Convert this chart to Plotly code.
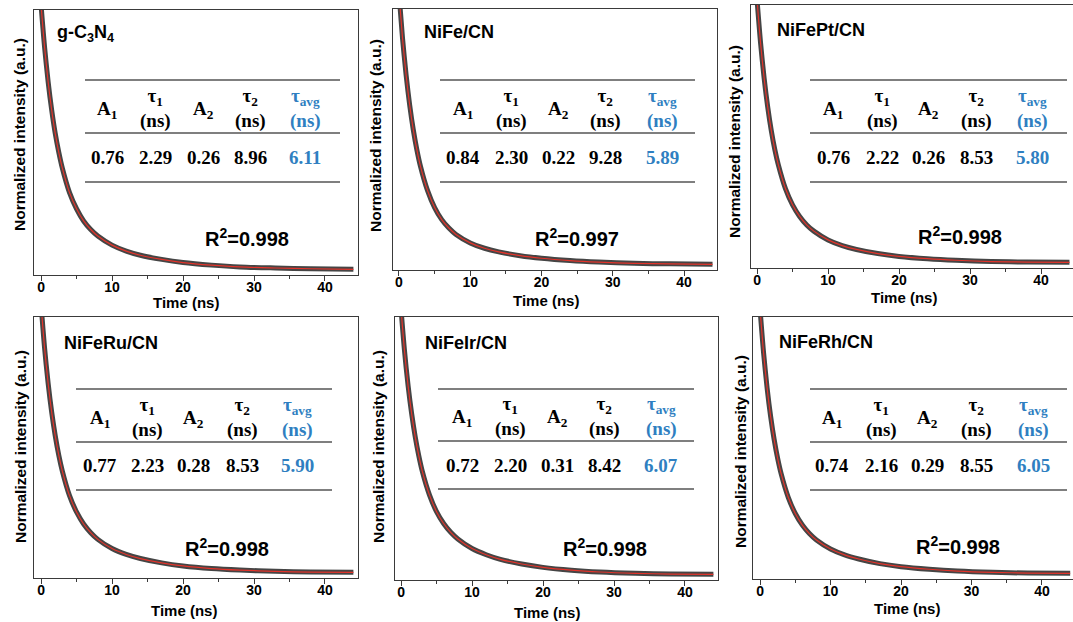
import plotly.graph_objects as go

W, H = 1073, 622

# ---------------- data ----------------
TIME_NS = [0, 0.5, 1, 1.5, 2, 2.5, 3, 4, 5, 6, 7, 8, 10, 12, 14, 17, 20, 24, 28, 33, 38, 44]

DECAY_GC3N4 = [1.020, 0.857, 0.724, 0.615, 0.525, 0.452, 0.391, 0.298, 0.235, 0.188, 0.155,
               0.130, 0.095, 0.072, 0.056, 0.040, 0.028, 0.018, 0.011, 0.007, 0.004, 0.002]
DECAY_NIFE = [1.060, 0.885, 0.742, 0.625, 0.529, 0.451, 0.387, 0.291, 0.224, 0.177, 0.144,
              0.119, 0.086, 0.065, 0.051, 0.036, 0.026, 0.017, 0.011, 0.006, 0.004, 0.002]
DECAY_NIFEPT = [1.020, 0.852, 0.716, 0.605, 0.514, 0.440, 0.380, 0.288, 0.225, 0.180, 0.147,
                0.123, 0.089, 0.067, 0.052, 0.036, 0.025, 0.016, 0.010, 0.005, 0.003, 0.002]
DECAY_NIFERU = [1.050, 0.879, 0.741, 0.628, 0.536, 0.460, 0.398, 0.303, 0.238, 0.191, 0.157,
                0.131, 0.095, 0.072, 0.056, 0.039, 0.027, 0.017, 0.011, 0.006, 0.003, 0.002]
DECAY_NIFEIR = [1.030, 0.866, 0.732, 0.624, 0.535, 0.462, 0.401, 0.310, 0.245, 0.199, 0.165,
                0.139, 0.102, 0.078, 0.060, 0.042, 0.029, 0.018, 0.011, 0.006, 0.003, 0.002]
DECAY_NIFERH = [1.030, 0.861, 0.724, 0.613, 0.523, 0.449, 0.389, 0.298, 0.235, 0.190, 0.157,
                0.132, 0.097, 0.074, 0.058, 0.040, 0.028, 0.018, 0.011, 0.006, 0.003, 0.002]

SAMPLES = ["g-C<sub>3</sub>N<sub>4</sub>", "NiFe/CN", "NiFePt/CN", "NiFeRu/CN", "NiFeIr/CN", "NiFeRh/CN"]
DECAYS = [DECAY_GC3N4, DECAY_NIFE, DECAY_NIFEPT, DECAY_NIFERU, DECAY_NIFEIR, DECAY_NIFERH]

A1 = ["0.76", "0.84", "0.76", "0.77", "0.72", "0.74"]
TAU1 = ["2.29", "2.30", "2.22", "2.23", "2.20", "2.16"]
A2 = ["0.26", "0.22", "0.26", "0.28", "0.31", "0.29"]
TAU2 = ["8.96", "9.28", "8.53", "8.53", "8.42", "8.55"]
TAU_AVG = ["6.11", "5.89", "5.80", "5.90", "6.07", "6.05"]
R2 = ["0.998", "0.997", "0.998", "0.998", "0.998", "0.998"]

X_TICKS = [0, 10, 20, 30, 40]
X_TITLE = "Time (ns)"
Y_TITLE = "Normalized intensity (a.u.)"

# ---------------- layout geometry (pixels) ----------------
LAYOUT = [
    dict(box=(34, 358, 10, 275), xr=(-0.99, 44.65), right=True, ytitle=(20, 135), label=(55, 33),
         tline=(85, 340), ly=(80, 133, 182), cols=[107, 155, 203, 250, 305], hy=108, vy=157,
         r2=(247, 238), xt=(186, 302)),
    dict(box=(393, 717, 9, 270), xr=(-0.84, 44.63), right=True, ytitle=(375, 136), label=(422, 32),
         tline=(440, 695), ly=(80, 133, 182), cols=[463, 511, 558, 605, 662], hy=108, vy=157,
         r2=(577, 238), xt=(546, 300)),
    dict(box=(751, 1073, 5, 268), xr=(-0.85, 44.5), right=False, ytitle=(735, 142), label=(775, 30),
         tline=(810, 1067), ly=(80, 133, 182), cols=[833, 882, 928, 976, 1032], hy=108, vy=157,
         r2=(960, 235), xt=(904, 297)),
    dict(box=(34, 358, 317, 578), xr=(-0.99, 44.65), right=True, ytitle=(20, 447), label=(62, 343),
         tline=(76, 332), ly=(389, 442, 490), cols=[100, 147, 193, 242, 297], hy=417, vy=466,
         r2=(227, 547), xt=(184, 610)),
    dict(box=(395, 718, 317, 580), xr=(-0.85, 44.65), right=True, ytitle=(378, 447), label=(423, 343),
         tline=(438, 694), ly=(389, 441, 489), cols=[462, 510, 557, 604, 661], hy=416, vy=465,
         r2=(605, 547), xt=(547, 612)),
    dict(box=(753, 1073, 317, 579), xr=(-1.0, 44.4), right=False, ytitle=(740, 452), label=(777, 342),
         tline=(810, 1067), ly=(389, 442, 490), cols=[832, 881, 927, 976, 1033], hy=417, vy=465,
         r2=(958, 545), xt=(907, 608)),
]

SANS = "Liberation Sans, Arial, sans-serif"
SERIF = "Liberation Serif, Times New Roman, serif"
BLUE = "#2f7fc1"
GRAY = "#454545"
RED = "#e3342b"
AXIS = "#3a3a3a"


def fx(x):
    return x / W


def fy(y):
    return 1 - y / H


def note(x, y, text, font, **kw):
    d = dict(x=fx(x), y=fy(y), xref="paper", yref="paper", text=text, showarrow=False,
             xanchor="center", yanchor="middle", font=font)
    d.update(kw)
    return d


fig = go.Figure()
annotations = []
shapes = []

for i, (cfg, decay) in enumerate(zip(LAYOUT, DECAYS)):
    n = "" if i == 0 else str(i + 1)
    xa, ya = "x" + n, "y" + n
    fig.add_trace(go.Scatter(x=TIME_NS, y=decay, xaxis=xa, yaxis=ya, mode="lines",
                             line=dict(color=GRAY, width=5, shape="spline", smoothing=0.8),
                             hoverinfo="skip", showlegend=False))
    fig.add_trace(go.Scatter(x=TIME_NS, y=decay, xaxis=xa, yaxis=ya, mode="lines",
                             line=dict(color=RED, width=1.2, shape="spline", smoothing=0.8),
                             hoverinfo="skip", showlegend=False))
    l, r, t, b = cfg["box"]
    fig.update_layout(**{
        "xaxis" + n: dict(domain=[fx(l), fx(r)], range=list(cfg["xr"]), anchor=ya,
                          showline=True, linecolor=AXIS, linewidth=1.3, mirror=True,
                          showgrid=False, zeroline=False, tickmode="array", tickvals=X_TICKS,
                          ticks="outside", ticklen=5, tickwidth=1.2, tickcolor=AXIS,
                          ticklabelstandoff=-6,
                          minor=dict(ticks="outside", dtick=5, tick0=0, ticklen=3, tickwidth=1,
                                     tickcolor=AXIS, showgrid=False),
                          tickfont=dict(family=SANS, size=14, color="black", weight="bold")),
        "yaxis" + n: dict(domain=[fy(b), fy(t)], range=[-0.02, 1.0], anchor=xa,
                          showline=True, linecolor=AXIS, linewidth=1.3, mirror=cfg["right"],
                          showgrid=False, zeroline=False, showticklabels=False, ticks=""),
    })
    annotations.append(note(cfg["xt"][0], cfg["xt"][1], "<b>%s</b>" % X_TITLE,
                            dict(family=SANS, size=15, color="black")))
    annotations.append(note(cfg["ytitle"][0], cfg["ytitle"][1], "<b>%s</b>" % Y_TITLE,
                            dict(family=SANS, size=15.5, color="black"), textangle=-90))
    annotations.append(note(cfg["label"][0], cfg["label"][1], "<b>%s</b>" % SAMPLES[i],
                            dict(family=SANS, size=18, color="black"), xanchor="left"))
    annotations.append(note(cfg["r2"][0], cfg["r2"][1], "<b>R<sup>2</sup>=%s</b>" % R2[i],
                            dict(family=SANS, size=20, color="black")))
    for yy in cfg["ly"]:
        shapes.append(dict(type="line", xref="paper", yref="paper",
                           x0=fx(cfg["tline"][0]), x1=fx(cfg["tline"][1]), y0=fy(yy), y1=fy(yy),
                           line=dict(color="#555555", width=1.3)))
    headers = ["A<sub>1</sub>", "τ<sub>1</sub><br>(ns)", "A<sub>2</sub>", "τ<sub>2</sub><br>(ns)",
               "τ<sub>avg</sub><br>(ns)"]
    values = [A1[i], TAU1[i], A2[i], TAU2[i], TAU_AVG[i]]
    for j, (hx, htxt, vtxt) in enumerate(zip(cfg["cols"], headers, values)):
        col = BLUE if j == 4 else "black"
        hy = cfg["hy"] + (2 if j in (0, 2) else 0)
        annotations.append(note(hx, hy, "<b>%s</b>" % htxt,
                                dict(family=SERIF, size=19, color=col)))
        annotations.append(note(hx, cfg["vy"], "<b>%s</b>" % vtxt,
                                dict(family=SERIF, size=19, color=col)))

fig.update_layout(width=W, height=H, margin=dict(l=0, r=0, t=0, b=0),
                  paper_bgcolor="white", plot_bgcolor="white",
                  annotations=annotations, shapes=shapes, showlegend=False)

fig.write_html("out.html")
